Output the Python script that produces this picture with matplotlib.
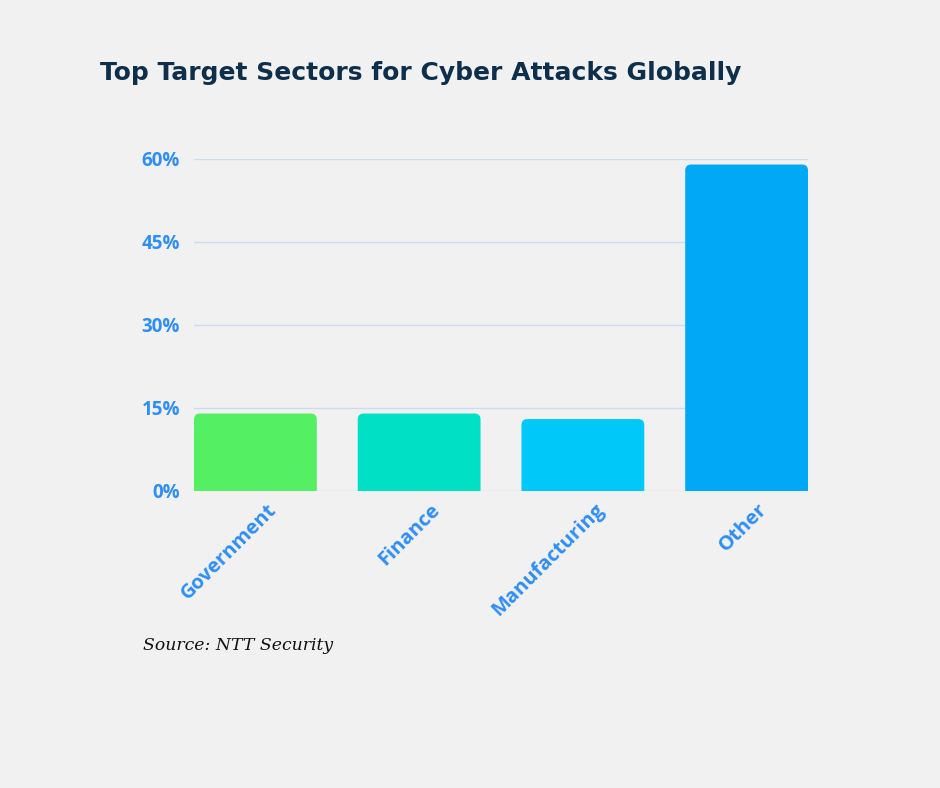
import matplotlib
matplotlib.use("Agg")
import matplotlib.pyplot as plt
from matplotlib.patches import FancyBboxPatch
from matplotlib.transforms import ScaledTranslation
from matplotlib.ticker import FixedLocator

categories = ["Government", "Finance", "Manufacturing", "Other"]
values = [14, 14, 13, 59]
colors = ["#54ef63", "#00e0c4", "#00c8f8", "#00a8f6"]
yticks = [0, 15, 30, 45, 60]
ytick_labels = ["0%", "15%", "30%", "45%", "60%"]

BG = "#f1f1f1"
TICK_C = "#2f8ef2"
TICK_FONT = ["Open Sans", "DejaVu Sans"]
fig = plt.figure(figsize=(9.4, 7.88), dpi=100, facecolor=BG)
ax = fig.add_axes([194/940, 1-491/788, 614/940, (491-159)/788], facecolor=BG)

x = list(range(len(categories)))
bars = ax.bar(x, values, width=0.75, color=colors, zorder=3)
ax.set_xlim(-0.375, len(categories) - 0.625)
ax.set_ylim(0, 60)

# rounded top corners
px_x = 614 / (len(categories) - 0.25)
px_y = 332 / 60
r_px = 6
for b in bars:
    b.set_visible(False)
    p = FancyBboxPatch((b.get_x(), -3), b.get_width(), b.get_height() + 3,
                       boxstyle=f"round,pad=0,rounding_size={r_px/px_x}",
                       mutation_aspect=(px_x/px_y),
                       facecolor=b.get_facecolor(), edgecolor="none", zorder=3,
                       clip_on=True)
    ax.add_patch(p)

ax.yaxis.set_major_locator(FixedLocator(yticks))
ax.set_yticklabels(ytick_labels)
ax.set_xticks(x)
ax.set_xticklabels(categories)
ax.grid(axis="y", color="#c9dcf2", linewidth=1, zorder=0)
for s in ax.spines.values():
    s.set_visible(False)
ax.tick_params(axis="both", length=0)
ax.tick_params(axis="y", pad=10)
for lab in ax.get_yticklabels():
    lab.set_fontfamily(TICK_FONT)
    lab.set_fontweight("bold")
    lab.set_fontsize(13.5)
    lab.set_color(TICK_C)
off = ScaledTranslation(11/100, -4/100, fig.dpi_scale_trans)
for lab in ax.get_xticklabels():
    lab.set_fontfamily(TICK_FONT)
    lab.set_fontweight("bold")
    lab.set_fontsize(14.5)
    lab.set_color(TICK_C)
    lab.set_rotation(45)
    lab.set_ha("right")
    lab.set_va("top")
    lab.set_rotation_mode("anchor")
    lab.set_transform(lab.get_transform() + off)

fig.text(100/940, 1-73/788, "Top Target Sectors for Cyber Attacks Globally",
         fontfamily="DejaVu Sans", fontweight="bold", fontsize=18, color="#0e2f4b",
         ha="left", va="center")
fig.text(143/940, 1-646/788, "Source: NTT Security", fontfamily="DejaVu Serif",
         fontstyle="italic", fontsize=12.4, color="#111111", ha="left", va="center")

fig.savefig("out.png", dpi=100, facecolor=BG)
